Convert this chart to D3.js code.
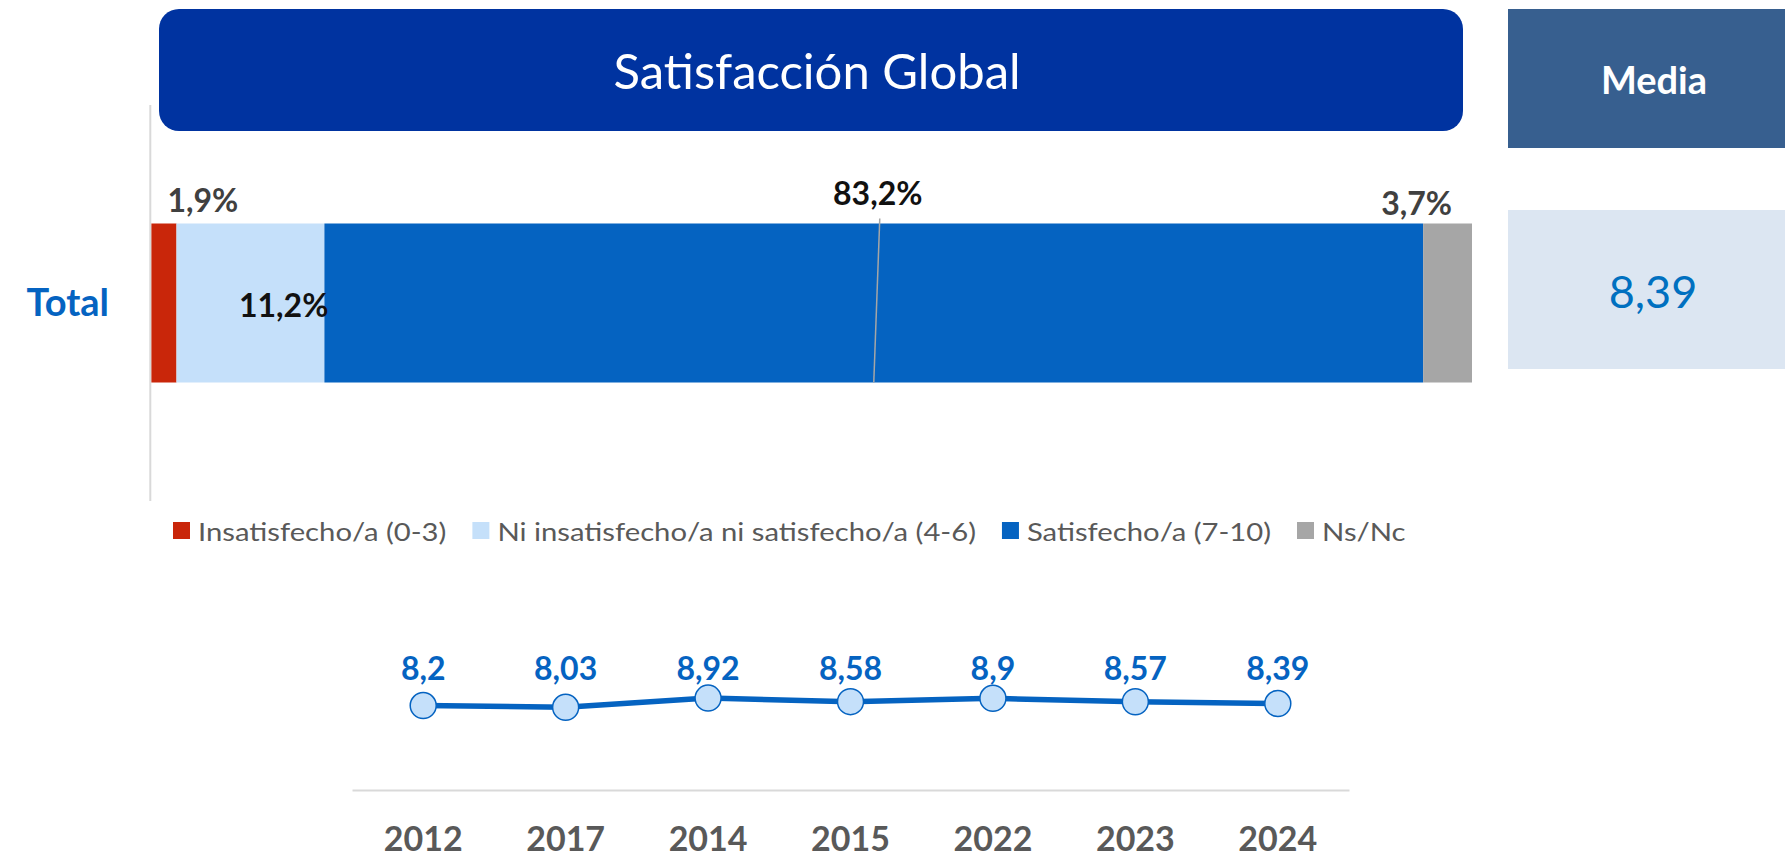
<!DOCTYPE html>
<html>
<head>
<meta charset="utf-8">
<script src="https://cdn.jsdelivr.net/npm/d3@7"></script>
<style>
  body { margin: 0; background: #fff; }
  text { font-family: Lato, "Open Sans", sans-serif; }
</style>
</head>
<body>
<svg id="chart" width="1785" height="859"></svg>
<script>
// Stacked bar data
var rowLabels = ["Total"];
var categories = ["Insatisfecho/a (0-3)", "Ni insatisfecho/a ni satisfecho/a (4-6)", "Satisfecho/a (7-10)", "Ns/Nc"];
var shares = [1.9, 11.2, 83.2, 3.7];
var colors = ["#c9260a", "#c5e0fa", "#0563c1", "#a6a6a6"];

// Mean by year
var years = ["2012", "2017", "2014", "2015", "2022", "2023", "2024"];
var means = [8.2, 8.03, 8.92, 8.58, 8.9, 8.57, 8.39];
var overallMean = 8.39;

var fmt = function (v, d) { return v.toFixed(d).replace(".", ","); };
var fmtMean = function (v) { return String(v).replace(".", ","); };

var svg = d3.select("#chart");

// Title box
svg.append("rect")
    .attr("x", 159).attr("y", 9)
    .attr("width", 1304).attr("height", 122)
    .attr("rx", 20)
    .attr("fill", "#0033a0");
svg.append("text")
    .attr("x", 817).attr("y", 89)
    .attr("text-anchor", "middle")
    .attr("fill", "#fff")
    .attr("font-size", 49)
    .text("Satisfacción Global");

// Media boxes
svg.append("rect")
    .attr("x", 1508).attr("y", 9).attr("width", 277).attr("height", 139)
    .attr("fill", "#375f8f");
svg.append("text")
    .attr("x", 1654).attr("y", 94)
    .attr("text-anchor", "middle")
    .attr("fill", "#fff")
    .attr("font-size", 38).attr("font-weight", "bold")
    .text("Media");
svg.append("rect")
    .attr("x", 1508).attr("y", 210).attr("width", 277).attr("height", 159)
    .attr("fill", "#dce6f2");
svg.append("text")
    .attr("x", 1653).attr("y", 308)
    .attr("text-anchor", "middle")
    .attr("fill", "#0070c0")
    .attr("font-size", 45)
    .text(fmtMean(overallMean));

// Stacked bar
var x = d3.scaleLinear().domain([0, 100]).range([151.4, 1472]);
var y = d3.scaleBand().domain(rowLabels).range([105, 501]).paddingInner(0.427).paddingOuter(0.427);

svg.append("line")
    .attr("x1", 150.3).attr("x2", 150.3)
    .attr("y1", 105).attr("y2", 501)
    .attr("stroke", "#d9d9d9").attr("stroke-width", 2);

var starts = [];
shares.reduce(function (acc, v) { starts.push(acc); return acc + v; }, 0);
var segs = shares.map(function (v, i) { return { value: v, start: starts[i], color: colors[i] }; });

svg.append("g").selectAll("rect")
    .data(segs)
    .enter().append("rect")
    .attr("x", d => x(d.start))
    .attr("y", y("Total"))
    .attr("width", d => x(d.start + d.value) - x(d.start))
    .attr("height", y.bandwidth())
    .attr("fill", d => d.color);

svg.append("text")
    .attr("x", 109).attr("y", 316)
    .attr("text-anchor", "end")
    .attr("fill", "#0563c1")
    .attr("font-size", 38).attr("font-weight", "bold")
    .text(rowLabels[0]);

var barTop = y("Total"), barBottom = y("Total") + y.bandwidth();

// data labels
var lbl = svg.append("g").attr("font-size", 32).attr("font-weight", "bold");
lbl.append("text")
    .attr("x", x(segs[0].start) + 16).attr("y", barTop - 11)
    .attr("fill", "#404040")
    .text(fmt(segs[0].value, 1) + "%");
lbl.append("text")
    .attr("x", x(segs[1].start + segs[1].value) + 4).attr("y", 317)
    .attr("text-anchor", "end")
    .attr("fill", "#111")
    .text(fmt(segs[1].value, 1) + "%");
var mid = x(segs[2].start + segs[2].value / 2);
svg.append("line")
    .attr("x1", mid + 6).attr("y1", barTop - 5)
    .attr("x2", mid).attr("y2", barBottom)
    .attr("stroke", "#a6a6a6").attr("stroke-width", 1.5);
lbl.append("text")
    .attr("x", mid + 4).attr("y", 205)
    .attr("text-anchor", "middle")
    .attr("fill", "#111")
    .text(fmt(segs[2].value, 1) + "%");
lbl.append("text")
    .attr("x", x(100) - 20).attr("y", barTop - 8)
    .attr("text-anchor", "end")
    .attr("fill", "#404040")
    .text(fmt(segs[3].value, 1) + "%");

// Legend (text is a bit stretched horizontally in the original)
var legend = svg.append("g").attr("font-size", 25).attr("fill", "#595959");
var stretch = 1.17;
var lx = 173;
categories.forEach(function (c, i) {
    legend.append("rect")
        .attr("x", lx).attr("y", 522).attr("width", 17).attr("height", 17)
        .attr("fill", colors[i]);
    var t = legend.append("text")
        .attr("transform", "translate(" + (lx + 25) + ",541) scale(" + stretch + ",1)")
        .text(c);
    lx += 25 + t.node().getComputedTextLength() * stretch + 26;
});

// Line chart of means
var xb = d3.scaleBand().domain(years).range([352, 1349]);
var ym = d3.scaleLinear().domain([0, 10]).range([790, 687]);

var axis = svg.append("g")
    .attr("transform", "translate(0,790)")
    .call(d3.axisBottom(xb).tickSize(0).tickSizeOuter(0));
axis.select(".domain").attr("stroke", "#d9d9d9").attr("stroke-width", 2);
axis.selectAll("text")
    .attr("y", 61).attr("dy", 0)
    .attr("font-family", "Lato, sans-serif")
    .attr("font-size", 34).attr("font-weight", "bold")
    .attr("fill", "#595959");

var pts = years.map(function (yr, i) { return { year: yr, value: means[i] }; });
var line = d3.line()
    .x(d => xb(d.year) + xb.bandwidth() / 2)
    .y(d => ym(d.value));

svg.append("path")
    .datum(pts)
    .attr("d", line)
    .attr("fill", "none")
    .attr("stroke", "#0563c1")
    .attr("stroke-width", 5.5);

svg.append("g").selectAll("circle")
    .data(pts)
    .enter().append("circle")
    .attr("cx", d => xb(d.year) + xb.bandwidth() / 2)
    .attr("cy", d => ym(d.value))
    .attr("r", 13)
    .attr("fill", "#c5e0fa")
    .attr("stroke", "#0563c1")
    .attr("stroke-width", 1.5);

svg.append("g").selectAll("text")
    .data(pts)
    .enter().append("text")
    .attr("x", d => xb(d.year) + xb.bandwidth() / 2)
    .attr("y", 680)
    .attr("text-anchor", "middle")
    .attr("font-size", 32).attr("font-weight", "bold")
    .attr("fill", "#0563c1")
    .text(d => fmtMean(d.value));
</script>
</body>
</html>
